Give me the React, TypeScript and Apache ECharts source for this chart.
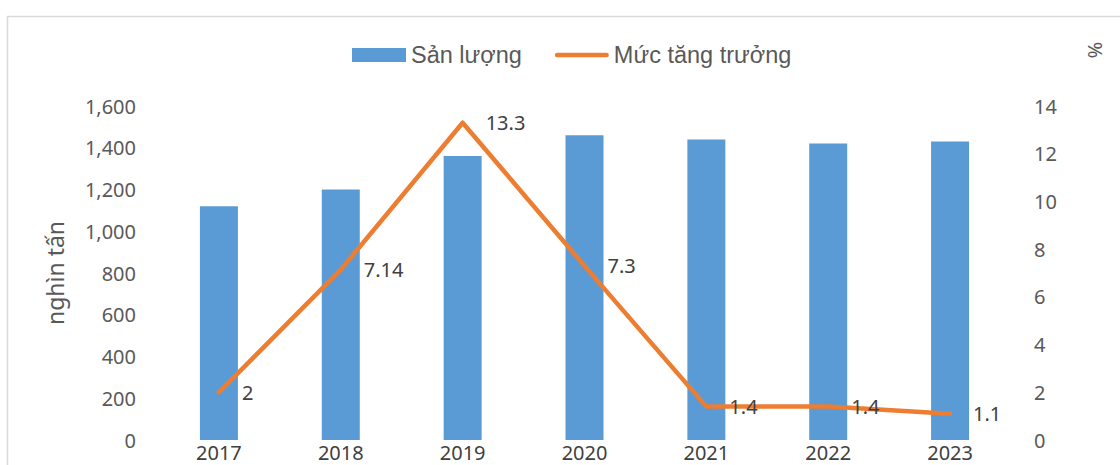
import React, { useEffect, useRef } from "react";
import * as echarts from "echarts";

const years = ["2017", "2018", "2019", "2020", "2021", "2022", "2023"];
const output = [1120, 1200, 1360, 1460, 1440, 1420, 1430];
const growth = [2, 7.14, 13.3, 7.3, 1.4, 1.4, 1.1];
const growthLabels = ["2", "7.14", "13.3", "7.3", "1.4", "1.4", "1.1"];

const FONT = "'Noto Sans', 'Open Sans', sans-serif";
const LEGEND_FONT = "'Liberation Sans', Arial, sans-serif";

export default function App() {
  const ref = useRef<HTMLDivElement>(null);
  useEffect(() => {
    if (!ref.current) return;
    const chart = echarts.init(ref.current, null, { renderer: "svg" });
    chart.setOption({
      animation: false,
      textStyle: { fontFamily: FONT },
      graphic: [
        {
          type: "rect",
          shape: { x: 7.5, y: 16.5, width: 1200, height: 600 },
          style: { fill: "none", stroke: "#d9d9d9", lineWidth: 1.5 },
          silent: true,
          z: -10,
        },
        {
          type: "text",
          x: 1095,
          y: 50,
          rotation: -Math.PI / 2,
          style: {
            text: "%",
            font: `20px ${FONT}`,
            fill: "#595959",
            align: "center",
            verticalAlign: "middle",
          },
        },
      ],
      legend: {
        top: 38,
        left: 347,
        itemWidth: 54,
        itemHeight: 14,
        itemGap: 33,
        textStyle: { fontSize: 23.5, color: "#595959", fontFamily: LEGEND_FONT },
        data: [
          { name: "Sản lượng", icon: "rect" },
          {
            name: "Mức tăng trưởng",
            icon: "path://M2.5,0 H54.5 A2.5,2.5 0 0 1 54.5,5 H2.5 A2.5,2.5 0 0 1 2.5,0 Z",
            itemStyle: { color: "#ED7D31", opacity: 1 },
          },
        ],
      },
      grid: { left: 158, right: 109, top: 106, bottom: 25, containLabel: false },
      xAxis: {
        type: "category",
        data: years,
        axisLine: { show: false },
        axisTick: { show: false },
        axisLabel: { fontSize: 20, color: "#404040", margin: 2, fontFamily: FONT },
      },
      yAxis: [
        {
          type: "value",
          min: 0,
          max: 1600,
          interval: 200,
          name: "nghìn tấn",
          nameLocation: "middle",
          nameGap: 92,
          nameRotate: 90,
          nameTextStyle: { fontSize: 23, color: "#595959", fontFamily: FONT },
          splitLine: { show: false },
          axisLine: { show: false },
          axisTick: { show: false },
          axisLabel: {
            fontSize: 20,
            color: "#595959",
            margin: 22,
            fontFamily: FONT,
            formatter: (v: number) => v.toLocaleString("en-US"),
          },
        },
        {
          type: "value",
          min: 0,
          max: 14,
          interval: 2,
          position: "right",
          splitLine: { show: false },
          axisLine: { show: false },
          axisTick: { show: false },
          axisLabel: { fontSize: 20, color: "#595959", margin: 23, fontFamily: FONT },
        },
      ],
      series: [
        {
          name: "Sản lượng",
          type: "bar",
          data: output,
          barWidth: 38,
          itemStyle: { color: "#5B9BD5" },
        },
        {
          name: "Mức tăng trưởng",
          type: "line",
          yAxisIndex: 1,
          data: growth,
          showSymbol: true,
          symbol: "circle",
          symbolSize: 2,
          lineStyle: { color: "#ED7D31", width: 4.5, cap: "round", join: "round" },
          itemStyle: { color: "#ED7D31" },
          label: {
            show: true,
            position: "right",
            distance: 22,
            fontSize: 20,
            color: "#404040",
            fontFamily: FONT,
            formatter: (p: any) => growthLabels[p.dataIndex],
          },
        },
      ],
    });
    return () => chart.dispose();
  }, []);
  return (
    <div
      ref={ref}
      style={{ position: "absolute", left: 0, top: 0, width: 1120, height: 465, background: "#fff" }}
    />
  );
}
